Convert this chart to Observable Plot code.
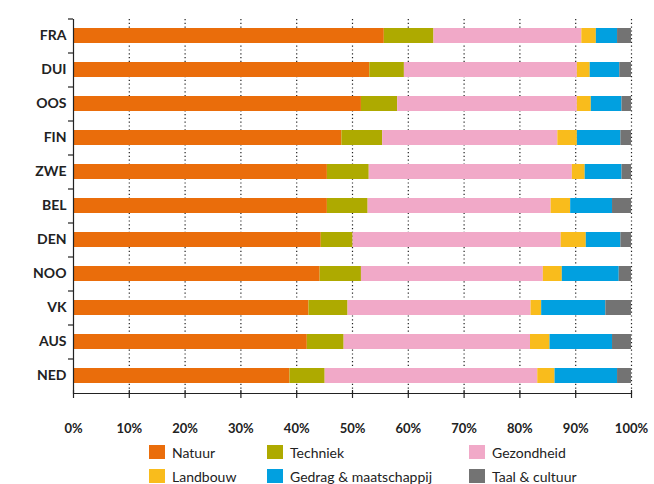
<!DOCTYPE html>
<html>
<head>
<meta charset="utf-8">
<script src="https://cdn.jsdelivr.net/npm/d3@7"></script>
<script src="https://cdn.jsdelivr.net/npm/@observablehq/plot@0.6"></script>
<style>
  html, body { margin: 0; padding: 0; background: #fff; }
  #wrap { width: 654px; height: 484px; position: relative; font-family: Lato, "Open Sans", sans-serif; }
  #legend { position: absolute; left: 149px; top: 444px; display: grid; grid-template-columns: 118px 202px auto; row-gap: 8px; font-size: 14px; color: #222; }
  .item { display: flex; align-items: center; height: 16px; }
  .sw { width: 16px; height: 14px; margin-right: 7px; flex: none; }
</style>
</head>
<body>
<div id="wrap">
  <div id="chart"></div>
  <div id="legend"></div>
</div>
<script>
const countries = ["FRA", "DUI", "OOS", "FIN", "ZWE", "BEL", "DEN", "NOO", "VK", "AUS", "NED"];
const series = ["Natuur", "Techniek", "Gezondheid", "Landbouw", "Gedrag & maatschappij", "Taal & cultuur"];
const colors = ["#EA6D0B", "#AEAA00", "#F1A9C8", "#F9BC1C", "#01A0E0", "#737373"];

const natuur      = [55.7, 53.1, 51.6, 48.1, 45.5, 45.5, 44.4, 44.2, 42.2, 41.9, 38.8];
const techniek    = [ 8.9,  6.2,  6.5,  7.3,  7.5,  7.3,  5.7,  7.4,  7.0,  6.6,  6.3];
const gezondheid  = [26.5, 31.0, 32.2, 31.4, 36.4, 32.8, 37.3, 32.6, 32.8, 33.4, 38.1];
const landbouw    = [ 2.6,  2.3,  2.5,  3.5,  2.3,  3.5,  4.5,  3.4,  1.9,  3.5,  3.1];
const gedrag      = [ 3.8,  5.3,  5.5,  7.8,  6.6,  7.5,  6.2, 10.2, 11.5, 11.2, 11.2];
const taal        = [ 2.5,  2.1,  1.7,  1.9,  1.7,  3.4,  1.9,  2.2,  4.6,  3.4,  2.5];

const xTicks = [0, 0.1, 0.2, 0.3, 0.4, 0.5, 0.6, 0.7, 0.8, 0.9, 1];
const gridTicks = [0.1, 0.2, 0.3, 0.4, 0.5, 0.6, 0.7, 0.8, 0.9, 1];

const valueArrays = [natuur, techniek, gezondheid, landbouw, gedrag, taal];
const data = [];
series.forEach((s, si) => {
  countries.forEach((c, ci) => {
    data.push({country: c, series: s, value: valueArrays[si][ci]});
  });
});

const chart = Plot.plot({
  width: 654,
  height: 440,
  marginLeft: 73,
  marginRight: 23,
  marginTop: 19,
  marginBottom: 47,
  style: {fontFamily: "Lato, 'Open Sans', sans-serif", background: "#fff"},
  x: {domain: [0, 1], label: null},
  y: {domain: countries, paddingInner: 0.55, paddingOuter: 0.275, label: null},
  color: {domain: series, range: colors},
  marks: [
    Plot.ruleX(gridTicks, {stroke: "#222", strokeWidth: 1.2, strokeDasharray: "1.2,2.6"}),
    Plot.barX(data, Plot.stackX({x: "value", y: "country", fill: "series", offset: "normalize"})),
    Plot.ruleX([0], {stroke: "#222", strokeWidth: 1.2}),
    Plot.frame({anchor: "bottom", stroke: "#222", strokeWidth: 1.2}),
    Plot.axisX({ticks: xTicks, tickSize: 8, dy: -3, text: null, stroke: "#222", strokeWidth: 1.2, label: null}),
    Plot.axisX({ticks: xTicks, tickSize: 0, tickPadding: 30, tickFormat: d => Math.round(d * 100) + "%", fontSize: 13, fontWeight: 700, fill: "#222", label: null}),
    Plot.axisY({tickSize: 5, dy: -17, text: null, stroke: "#222", strokeWidth: 1.2, label: null}),
    Plot.axisY({tickSize: 0, tickPadding: 7, fontSize: 14, fontWeight: 700, fill: "#222", label: null})
  ]
});
document.getElementById("chart").appendChild(chart);

const legend = document.getElementById("legend");
series.forEach((s, i) => {
  const item = document.createElement("div");
  item.className = "item";
  const sw = document.createElement("span");
  sw.className = "sw";
  sw.style.background = colors[i];
  const t = document.createElement("span");
  t.textContent = s;
  item.appendChild(sw);
  item.appendChild(t);
  legend.appendChild(item);
});
</script>
</body>
</html>
